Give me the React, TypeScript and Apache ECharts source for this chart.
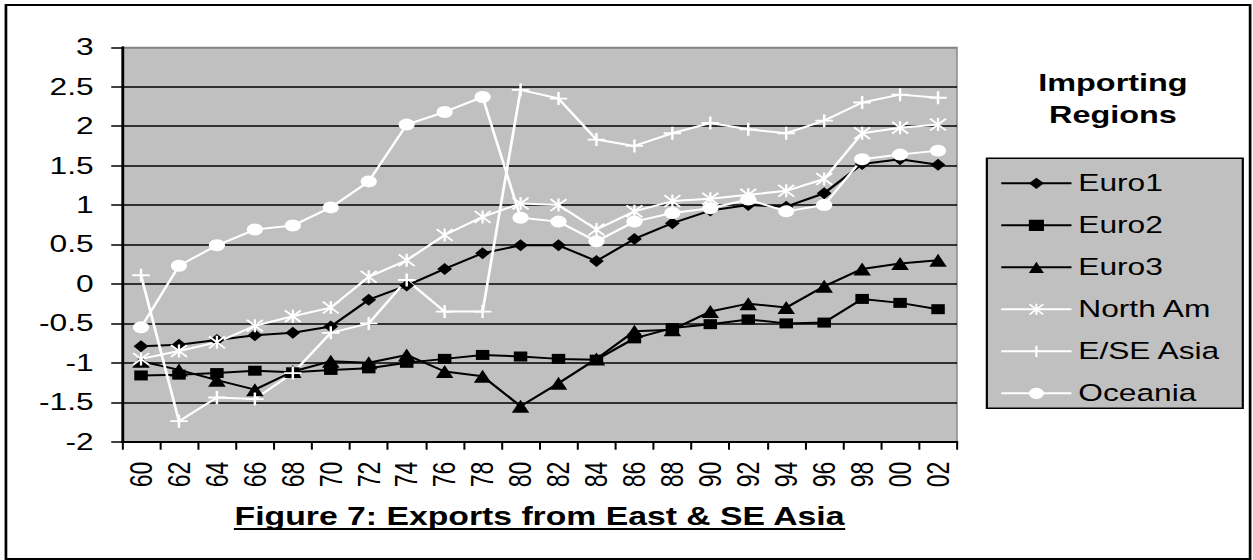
import React, { useEffect, useRef } from "react";
import * as echarts from "echarts";

const categories = ["60", "62", "64", "66", "68", "70", "72", "74", "76", "78", "80", "82", "84", "86", "88", "90", "92", "94", "96", "98", "00", "02"];

const euro1 = [-0.79, -0.77, -0.71, -0.65, -0.62, -0.54, -0.2, -0.02, 0.19, 0.39, 0.49, 0.49, 0.29, 0.57, 0.77, 0.93, 1.0, 0.98, 1.15, 1.52, 1.58, 1.51];
const euro2 = [-1.16, -1.15, -1.13, -1.1, -1.12, -1.09, -1.07, -1.0, -0.95, -0.9, -0.92, -0.95, -0.96, -0.69, -0.56, -0.51, -0.45, -0.5, -0.49, -0.19, -0.24, -0.32];
const euro3 = [-0.98, -1.09, -1.22, -1.34, -1.11, -0.98, -1.0, -0.9, -1.11, -1.17, -1.55, -1.26, -0.95, -0.6, -0.58, -0.35, -0.25, -0.3, -0.03, 0.19, 0.26, 0.3];
const northAm = [-0.95, -0.85, -0.74, -0.53, -0.41, -0.3, 0.09, 0.3, 0.62, 0.85, 1.02, 1.0, 0.69, 0.92, 1.05, 1.08, 1.13, 1.18, 1.33, 1.91, 1.98, 2.02];
const esAsia = [0.11, -1.74, -1.44, -1.46, -1.13, -0.62, -0.5, 0.05, -0.35, -0.35, 2.46, 2.35, 1.83, 1.75, 1.91, 2.04, 1.96, 1.91, 2.07, 2.3, 2.4, 2.36];
const oceania = [-0.55, 0.23, 0.49, 0.69, 0.74, 0.97, 1.3, 2.02, 2.18, 2.37, 0.84, 0.79, 0.54, 0.79, 0.9, 0.96, 1.07, 0.92, 1.0, 1.58, 1.64, 1.69];

const seriesNames = ["Euro1", "Euro2", "Euro3", "North Am", "E/SE Asia", "Oceania"];
const yTicks = { min: -2, max: 3, interval: 0.5 };
const titleText = "Figure 7: Exports from East & SE Asia";
const legendTitle = "Importing\nRegions";

const S = 1.35; // horizontal stretch of the reference picture
const W = 928;
const H = 560;

const ASTERISK =
  "path://M9,2.3L11,2.3L11,17.7L9,17.7Z" +
  "M3.7,2.3L17.7,16.3L16.3,17.7L2.3,3.7Z" +
  "M16.3,2.3L17.7,3.7L3.7,17.7L2.3,16.3Z";
const PLUS = "path://M8.6,0L11.4,0L11.4,8.6L20,8.6L20,11.4L11.4,11.4L11.4,20L8.6,20L8.6,11.4L0,11.4L0,8.6L8.6,8.6Z";

export default function App() {
  const ref = useRef<HTMLDivElement>(null);

  useEffect(() => {
    document.body.style.margin = "0";
    document.body.style.overflow = "hidden";
    document.documentElement.style.overflow = "hidden";
    const el = ref.current;
    if (!el) return;
    const chart = echarts.init(el, null, { renderer: "svg", width: W, height: H });
    const font = "'Liberation Sans', Arial, Helvetica, sans-serif";

    let titleW = 453;
    try {
      const ctx = document.createElement("canvas").getContext("2d");
      if (ctx) {
        ctx.font = "bold 25px 'Liberation Sans', Arial, sans-serif";
        titleW = ctx.measureText(titleText).width;
      }
    } catch (e) {}

    const gridLeft = 90.4;
    const gridTop = 47.3;
    const gridW = 618.5;
    const gridH = 394.4;
    const cx = gridLeft + gridW / 2;

    const mk = (name: string, data: number[], color: string, symbol: string, size: any, keep = false) => ({
      name,
      type: "line",
      data,
      symbol,
      symbolSize: size,
      symbolKeepAspect: keep,
      showAllSymbol: true,
      lineStyle: { color, width: 2 },
      itemStyle: { color, borderWidth: 0 },
      emphasis: { disabled: true },
    });

    const splitColors = Array.from({ length: 11 }, (_, i) => (i === 10 ? "#808080" : "#000"));

    chart.setOption({
      animation: false,
      backgroundColor: "#fff",
      textStyle: { fontFamily: font },
      grid: {
        left: gridLeft,
        top: gridTop,
        width: gridW,
        height: gridH,
        show: true,
        backgroundColor: "#c0c0c0",
        borderColor: "#808080",
        borderWidth: 1,
      },
      xAxis: {
        type: "category",
        data: categories,
        boundaryGap: true,
        axisLine: { show: true, onZero: false, lineStyle: { color: "#000", width: 2 } },
        axisTick: { show: true, interval: 0, length: 8, lineStyle: { color: "#000", width: 1.5 } },
        axisLabel: { interval: 0, rotate: 90, fontSize: 23, color: "#000", margin: 20, fontFamily: font },
        splitLine: { show: false },
      },
      yAxis: {
        type: "value",
        min: yTicks.min,
        max: yTicks.max,
        interval: yTicks.interval,
        axisLine: { show: true, lineStyle: { color: "#000", width: 2 } },
        axisTick: { show: true, length: 8, lineStyle: { color: "#000", width: 1.5 } },
        axisLabel: { fontSize: 23.5, color: "#000", margin: 21, fontFamily: font },
        splitLine: { show: true, lineStyle: { color: splitColors, width: 1.5 } },
      },
      legend: {
        data: seriesNames,
        orient: "vertical",
        left: 740.7,
        top: 171.3,
        padding: 0,
        itemWidth: 52,
        itemHeight: 14,
        itemGap: 18,
        z: 5,
        textStyle: { fontSize: 23.5, lineHeight: 24, color: "#000", fontFamily: font },
      },
      graphic: [
        {
          type: "rect",
          z: 1,
          silent: true,
          shape: { x: 4.4, y: 5, width: 921.6, height: 554 },
          style: { fill: "none", stroke: "#000", lineWidth: 2 },
        },
        {
          type: "rect",
          z: 1,
          silent: true,
          shape: { x: 731, y: 158.3, width: 189.6, height: 250 },
          style: { fill: "#c0c0c0", stroke: "#000", lineWidth: 1.6 },
        },
        {
          type: "text",
          z: 2,
          silent: true,
          x: 824.4,
          y: 99,
          style: {
            text: legendTitle,
            fill: "#000",
            font: "bold 24px " + font,
            textAlign: "center",
            textVerticalAlign: "middle",
            lineHeight: 32,
          },
        },
        {
          type: "text",
          z: 2,
          silent: true,
          x: cx,
          y: 516,
          style: {
            text: titleText,
            fill: "#000",
            font: "bold 25px " + font,
            textAlign: "center",
            textVerticalAlign: "middle",
          },
        },
        {
          type: "line",
          z: 2,
          silent: true,
          shape: { x1: cx - titleW / 2, y1: 529, x2: cx + titleW / 2, y2: 529 },
          style: { stroke: "#000", lineWidth: 2 },
        },
      ],
      series: [
        mk(seriesNames[0], euro1, "#000", "diamond", [11, 12]),
        mk(seriesNames[1], euro2, "#000", "rect", 10),
        mk(seriesNames[2], euro3, "#000", "triangle", 13),
        mk(seriesNames[3], northAm, "#fff", ASTERISK, 13, true),
        mk(seriesNames[4], esAsia, "#fff", PLUS, 13, true),
        mk(seriesNames[5], oceania, "#fff", "circle", 12),
      ],
    });

    return () => {
      chart.dispose();
    };
  }, []);

  return (
    <div
      ref={ref}
      style={{ width: W, height: H, transform: `scaleX(${S})`, transformOrigin: "0 0" }}
    />
  );
}
